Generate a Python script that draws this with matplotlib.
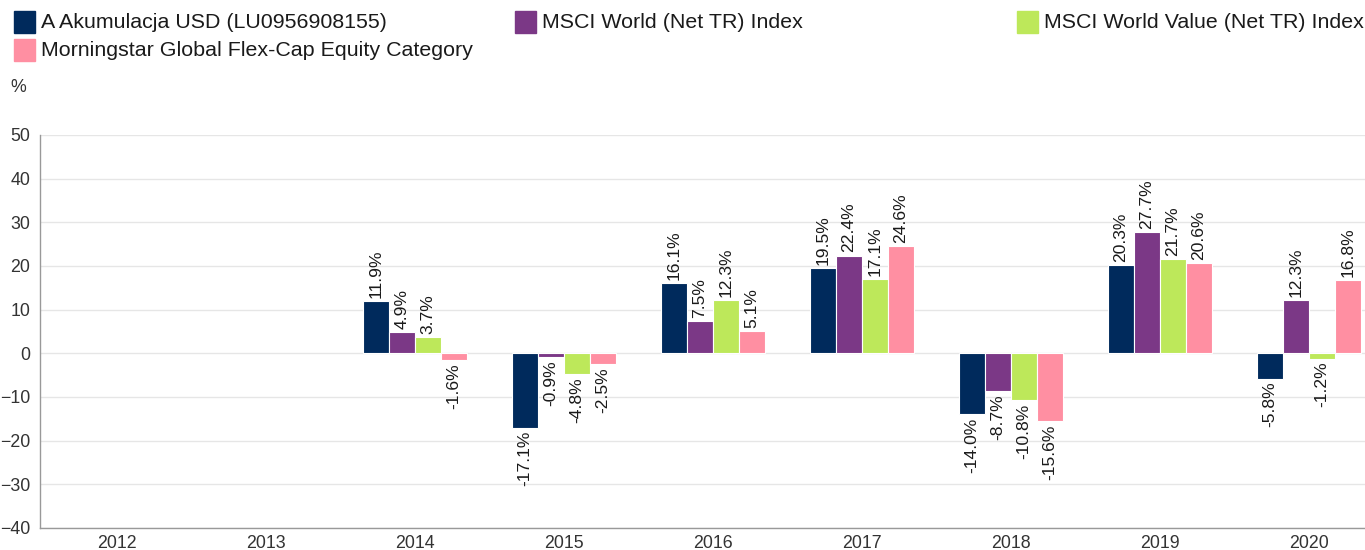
import numpy as np
import matplotlib.pyplot as plt
from matplotlib.patches import Rectangle

plt.rcParams['font.family'] = ['Liberation Sans', 'DejaVu Sans']

years = ['2012', '2013', '2014', '2015', '2016', '2017', '2018', '2019', '2020']
series_names = [
    'A Akumulacja USD (LU0956908155)',
    'MSCI World (Net TR) Index',
    'MSCI World Value (Net TR) Index',
    'Morningstar Global Flex-Cap Equity Category',
]
fund = [np.nan, np.nan, 11.9, -17.1, 16.1, 19.5, -14.0, 20.3, -5.8]
msci_world = [np.nan, np.nan, 4.9, -0.9, 7.5, 22.4, -8.7, 27.7, 12.3]
msci_value = [np.nan, np.nan, 3.7, -4.8, 12.3, 17.1, -10.8, 21.7, -1.2]
category = [np.nan, np.nan, -1.6, -2.5, 5.1, 24.6, -15.6, 20.6, 16.8]
colors = ['#002a5c', '#7b3886', '#bde85a', '#ff8fa2']

fig = plt.figure(figsize=(13.65, 5.5), dpi=100)
ax = fig.add_axes([40 / 1365, 22 / 550, 1 - 40 / 1365, 393 / 550])

x = np.arange(len(years))
w = 0.174
all_series = [fund, msci_world, msci_value, category]
for i, (vals, col) in enumerate(zip(all_series, colors)):
    pos = x + (i - 1.5) * w
    vals = np.array(vals, dtype=float)
    ax.bar(pos, vals, width=w, color=col, edgecolor='white', linewidth=0.8, zorder=3)
    for p, v in zip(pos, vals):
        if np.isnan(v):
            continue
        if v >= 0:
            ax.text(p, v + 0.7, f'{v:.1f}%', rotation=90, ha='center', va='bottom',
                    fontsize=12.6, color='#1a1a1a', zorder=4)
        else:
            ax.text(p, v - 0.7, f'{v:.1f}%', rotation=90, ha='center', va='top',
                    fontsize=12.6, color='#1a1a1a', zorder=4)

ax.set_ylim(-40, 50)
ax.set_yticks(range(-40, 51, 10))
ax.set_xlim(-0.517, 8.376)
ax.set_xticks(x)
ax.set_xticklabels(years)
ax.grid(axis='y', color='#e6e6e6', linewidth=1, zorder=0)
ax.tick_params(length=0, labelsize=12.8, colors='#333333', pad=5)
ax.tick_params(axis='y', pad=7)
for s in ['top', 'right']:
    ax.spines[s].set_visible(False)
for s in ['left', 'bottom']:
    ax.spines[s].set_color('#999999')
    ax.spines[s].set_linewidth(1)

# legend drawn by hand to match fixed column positions
legend_pos = [(14, 22), (515, 22), (1017, 22), (14, 50)]
for (lx, ly), name, col in zip(legend_pos, series_names, colors):
    fig.patches.append(Rectangle((lx / 1365, 1 - (ly + 11) / 550), 21 / 1365, 22 / 550,
                                 transform=fig.transFigure, color=col))
    fig.text((lx + 27) / 1365, 1 - ly / 550, name, fontsize=15.4, color='#1a1a1a',
             va='center', ha='left')

fig.text(10 / 1365, 1 - 88 / 550, '%', fontsize=12.8, color='#333333', va='center')

fig.savefig('out.png', dpi=100)
